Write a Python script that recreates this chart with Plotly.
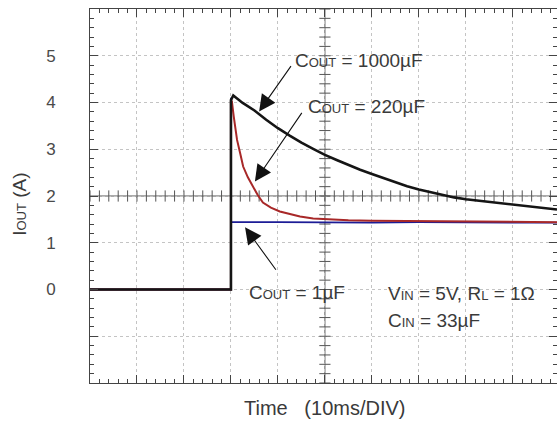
import numpy as np
import plotly.graph_objects as go

# ---- data (time in ms, current in A) ----
t_1000 = [0, 30, 30, 30.5, 32.5, 35, 37.5, 40, 42.5, 45, 47.5, 50, 52.5, 55, 57.5, 60, 62.5, 65,
          67.5, 70, 72.5, 75, 77.5, 80, 82.5, 85, 87.5, 90, 92.5, 95, 97.5, 99.4]
i_1000 = [0, 0, 4.05, 4.15, 3.99, 3.83, 3.63, 3.45, 3.29, 3.14, 3.01, 2.88, 2.77, 2.66, 2.56, 2.47,
          2.38, 2.29, 2.21, 2.14, 2.08, 2.02, 1.97, 1.93, 1.90, 1.87, 1.84, 1.81, 1.78, 1.76, 1.73, 1.71]

t_220 = [0, 30, 30, 30.2, 30.6, 31.3, 32.0, 32.6, 33.6, 34.7, 35.7, 36.8, 38.5, 40.4, 42.5, 44.7,
         47.5, 50.4, 55, 60, 70, 80, 90, 99.4]
i_220 = [0, 0, 4.02, 4.02, 3.7, 3.2, 2.9, 2.63, 2.4, 2.2, 2.02, 1.86, 1.75, 1.67, 1.61, 1.56,
         1.52, 1.50, 1.48, 1.47, 1.46, 1.46, 1.45, 1.44]

t_1 = [0, 30, 30, 30, 40, 50, 60, 70, 80, 90, 99.4]
i_1 = [0, 0, 4.1, 1.44, 1.44, 1.43, 1.43, 1.44, 1.43, 1.43, 1.43]

y_tick_vals = [-2, -1, 0, 1, 2, 3, 4, 5, 6]
y_tick_text = ["", "", "0", "1", "2", "3", "4", "5", ""]

X_RANGE = [0, 99.4]
Y_RANGE = [-2, 6]

FONT = "Liberation Sans, Arial, sans-serif"
TXT = "#3a3a3a"
SMALL = "<span style='font-size:13px'>{}</span>"

fig = go.Figure()

# center crosshair ticks (oscilloscope graticule)
cx = np.arange(0, 100.01, 2)
cy = np.arange(-2, 6.01, 0.2)
fig.add_trace(go.Scatter(x=cx, y=[2] * len(cx), mode="markers", hoverinfo="skip",
                         marker=dict(symbol="line-ns", size=8, line=dict(width=1, color="#555")),
                         showlegend=False))
fig.add_trace(go.Scatter(x=[50] * len(cy), y=cy, mode="markers", hoverinfo="skip",
                         marker=dict(symbol="line-ew", size=8, line=dict(width=1, color="#555")),
                         showlegend=False))

fig.add_trace(go.Scatter(x=t_1, y=i_1, mode="lines", line=dict(color="#1c1c96", width=1.8),
                         showlegend=False))
fig.add_trace(go.Scatter(x=t_220, y=i_220, mode="lines", line=dict(color="#a82828", width=2),
                         showlegend=False))
fig.add_trace(go.Scatter(x=t_1000, y=i_1000, mode="lines", line=dict(color="#151515", width=2.6),
                         showlegend=False))

# center lines
fig.add_shape(type="line", xref="x", yref="paper", x0=50, x1=50, y0=0, y1=1,
              line=dict(color="#555", width=1), layer="below")
fig.add_shape(type="line", xref="paper", yref="y", x0=0, x1=1, y0=2, y1=2,
              line=dict(color="#555", width=1), layer="below")

def label(x, y, text):
    fig.add_annotation(x=x, y=y, xref="x", yref="y", text=text, showarrow=False,
                       xanchor="left", yanchor="middle",
                       font=dict(family=FONT, size=19, color=TXT))

def arrow(x0, y0, x1, y1):
    fig.add_annotation(x=x1, y=y1, ax=x0, ay=y0, xref="x", yref="y", axref="x", ayref="y",
                       text="", showarrow=True, arrowhead=2, arrowsize=3, arrowwidth=1.1,
                       arrowcolor="#111")

label(43.2, 4.90, "C" + SMALL.format("OUT") + " = 1000µF")
arrow(43.0, 4.81, 36.0, 3.81)
label(46.0, 3.92, "C" + SMALL.format("OUT") + " = 220µF")
arrow(45.3, 3.81, 35.1, 2.31)
label(33.4, -0.06, "C" + SMALL.format("OUT") + " = 1µF")
arrow(39.8, 0.39, 33.0, 1.33)
label(63.0, -0.09, "V" + SMALL.format("IN") + " = 5V, R" + SMALL.format("L") + " = 1Ω")
label(63.0, -0.66, "C" + SMALL.format("IN") + " = 33µF")

# axis titles
fig.add_annotation(x=0.503, y=-0.067, xref="paper", yref="paper", showarrow=False,
                   text="Time   (10ms/DIV)", xanchor="center", yanchor="middle",
                   font=dict(family=FONT, size=20, color=TXT))
fig.add_annotation(x=-0.15, y=0.479, xref="paper", yref="paper", showarrow=False,
                   text="I" + SMALL.format("OUT") + " (A)", textangle=-90,
                   xanchor="center", yanchor="middle",
                   font=dict(family=FONT, size=19, color=TXT))

axis_common = dict(showline=True, linecolor="#444", linewidth=1, mirror="ticks",
                   ticks="inside", ticklen=8, tickcolor="#444", tickwidth=1,
                   showgrid=True, gridcolor="#c4c4c4", griddash="dot", gridwidth=1,
                   zeroline=False, fixedrange=True)

fig.update_xaxes(range=X_RANGE, tickmode="linear", tick0=0, dtick=10, showticklabels=False,
                 minor=dict(dtick=2, ticks="inside", ticklen=4, tickcolor="#444", showgrid=False),
                 **axis_common)
fig.update_yaxes(range=Y_RANGE, tickmode="array", tickvals=y_tick_vals, ticktext=y_tick_text,
                 ticklabelstandoff=30,
                 tickfont=dict(family=FONT, size=17, color="#4a4a4a"),
                 minor=dict(dtick=0.2, tick0=0, ticks="inside", ticklen=4, tickcolor="#444", showgrid=False),
                 **axis_common)

fig.update_layout(width=557, height=423, margin=dict(l=90, r=0, t=9, b=40),
                  paper_bgcolor="white", plot_bgcolor="white", showlegend=False)

fig.write_html("out.html")
